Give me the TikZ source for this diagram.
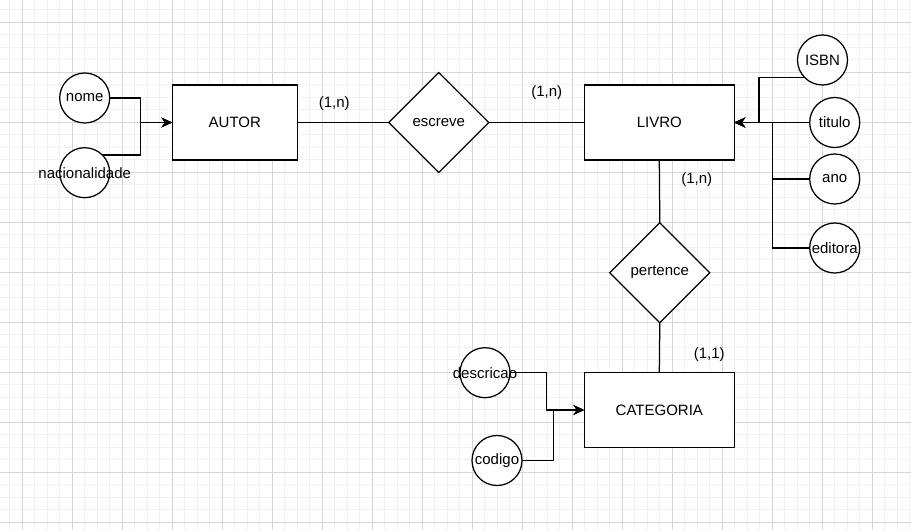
\documentclass[tikz,border=0pt]{standalone}
\usepackage{fontspec}
\setmainfont{Liberation Sans}
\usetikzlibrary{shapes.geometric,arrows.meta,backgrounds}
\definecolor{minorgrid}{RGB}{241,241,241}
\definecolor{majorgrid}{RGB}{214,214,214}
\definecolor{ink}{RGB}{0,0,0}
\newcommand{\attxt}[1]{\makebox[0pt][c]{#1}}
\begin{document}
\begin{tikzpicture}[x=1pt,y=-1pt,
  every node/.style={font=\fontsize{15}{18}\selectfont, text=ink},
  entity/.style={draw=ink, fill=white, line width=1.25pt, minimum width=#1, minimum height=75pt, inner sep=0pt, outer sep=0pt},
  relation/.style={diamond, draw=ink, fill=white, line width=1.25pt, minimum width=100pt, minimum height=100pt, inner sep=0pt, outer sep=0pt},
  attr/.style={circle, draw=ink, fill=white, line width=1.25pt, minimum size=50pt, inner sep=0pt, outer sep=0pt},
  conn/.style={draw=ink, line width=1.25pt},
  arr/.style={conn, -{Stealth[length=11pt,width=10pt,inset=3.5pt]}},
  card/.style={inner sep=0pt}
]
\useasboundingbox (0,0) rectangle (911,530);
\begin{pgfonlayer}{background}
  \fill[white] (0,0) rectangle (911,530);
  \foreach \x in {9.8,22.3,...,911} \draw[minorgrid, line width=0.9pt] (\x,0) -- (\x,530);
  \foreach \y in {9.8,22.3,...,530} \draw[minorgrid, line width=0.9pt] (0,\y) -- (911,\y);
  \foreach \x in {22.3,72.3,...,911} \draw[majorgrid, line width=0.9pt] (\x,0) -- (\x,530);
  \foreach \y in {22.3,72.3,...,530} \draw[majorgrid, line width=0.9pt] (0,\y) -- (911,\y);
\end{pgfonlayer}

% entities
\node[entity=125pt] (autor) at (234.8,122.5) {AUTOR};
\node[entity=150pt] (livro) at (659.3,122.5) {LIVRO};
\node[entity=150pt] (categoria) at (659.3,410) {CATEGORIA};

% relationships
\node[relation] (escreve) at (438.8,122.5) {escreve};
\node[relation] (pertence) at (659.8,272.7) {pertence};

% attributes
\node[attr] (nome) at (84.7,98) {\attxt{nome}};
\node[attr] (nac) at (84.7,172.7) {\attxt{nacionalidade}};
\node[attr] (isbn) at (822.5,60) {\attxt{ISBN}};
\node[attr] (titulo) at (834.7,122.5) {\attxt{titulo}};
\node[attr] (ano) at (834.7,179) {\attxt{ano}};
\node[attr] (editora) at (834.7,248) {\attxt{editora}};
\node[attr] (descricao) at (485,372.7) {\attxt{descricao}};
\node[attr] (codigo) at (497,460.5) {\attxt{codigo}};

% cardinalities
\node[card] (c1) at (334.3,104) {(1,n)};
\node[card] (c2) at (546.7,93) {(1,n)};
\node[card] (c3) at (696.7,180) {(1,n)};
\node[card] (c4) at (709.3,355) {(1,1)};

% coordinates for orthogonal bends
\coordinate (jl) at (140.7,122.5);
\coordinate (jr1) at (759,122.5);
\coordinate (jr2) at (772.3,122.5);
\coordinate (jb1) at (546.7,410);
\coordinate (jb2) at (553.3,410);

\begin{pgfonlayer}{background}
  % relationship lines
  \draw[conn] (autor.east) -- (escreve.west);
  \draw[conn] (escreve.east) -- (livro.west);
  \draw[conn] (livro.south) -- (pertence.north);
  \draw[conn] (pertence.south) -- (categoria.north);
  % AUTOR attributes
  \draw[arr] (nome.east) -| (jl) -- (autor.west);
  \draw[arr] (nac.north east) -| (jl) -- (autor.west);
  % LIVRO attributes
  \draw[arr] (isbn.south west) -| (jr1) -- (livro.east);
  \draw[arr] (titulo.west) -- (livro.east);
  \draw[arr] (ano.west) -| (jr2) -- (livro.east);
  \draw[arr] (editora.west) -| (jr2) -- (livro.east);
  % CATEGORIA attributes
  \draw[arr] (descricao.east) -| (jb1) -- (categoria.west);
  \draw[arr] (codigo.east) -| (jb2) -- (categoria.west);
\end{pgfonlayer}
\end{tikzpicture}
\end{document}
